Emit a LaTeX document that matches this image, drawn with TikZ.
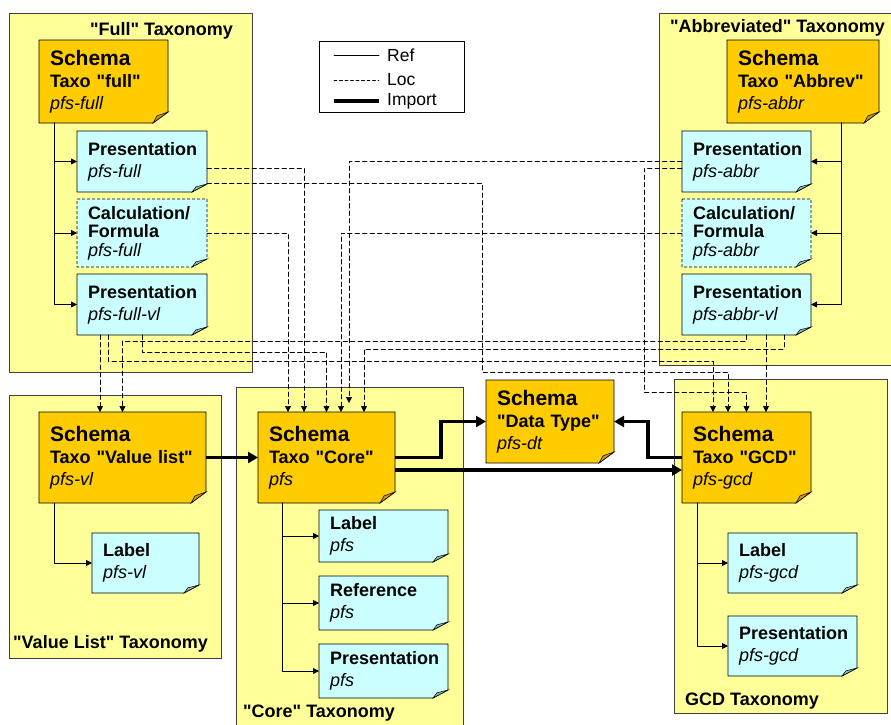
\documentclass[tikz,border=0pt]{standalone}
\usepackage{fontspec}
\setmainfont{Liberation Sans}[Ligatures=TeXOff]
\usetikzlibrary{arrows.meta}
\definecolor{taxo}{RGB}{255,255,153}
\definecolor{schemaor}{RGB}{255,204,0}
\definecolor{foldor}{RGB}{204,153,0}
\definecolor{linkcy}{RGB}{204,255,255}
\definecolor{foldcy}{RGB}{140,185,195}
\pgfdeclarelayer{back}
\pgfdeclarelayer{mid}
\pgfsetlayers{back,mid,main}
\hyphenpenalty=10000
\exhyphenpenalty=10000
\newcommand\nsname[1]{{\mdseries\itshape #1}}
\newcommand\schemaword{{\fontsize{21}{22}\selectfont Schema}}
% paper sheet with folded corner behind a node
\newcommand\paper[5][]{%
	\draw[line width=0.8pt,fill=#3,#1] (#2.north west) -- (#2.north east)
		-- ([yshift=#5]#2.south east) -- ([xshift=-15pt]#2.south east)
		-- (#2.south west) -- cycle;
	\draw[line width=0.5pt,fill=#4] ([yshift=#5]#2.south east)
		-- ([xshift=-15pt]#2.south east) -- ([xshift=-11pt,yshift=0.65*#5]#2.south east) -- cycle;
}
\begin{document}
\begin{tikzpicture}[x=1pt,y=-1pt,line cap=round,line join=round,
	>={Triangle[length=6pt,width=6pt]},
	schema/.style={anchor=north west,inner xsep=11pt,inner ysep=0pt,outer sep=0pt,align=left,
		font=\fontsize{18}{22}\selectfont\bfseries},
	linkbox/.style={schema},
	calcfont/.style={font=\fontsize{18}{18.5}\selectfont\bfseries},
	title/.style={inner sep=0pt,font=\fontsize{18}{22}\selectfont\bfseries},
	legtext/.style={anchor=west,inner sep=0pt,font=\fontsize{17.5}{20}\selectfont},
	taxobox/.style={fill=taxo,draw=black!75,line width=0.8pt},
	ref/.style={line width=0.8pt,->},
	loc/.style={line width=0.7pt,dash pattern=on 4.5pt off 3pt,->},
	imp/.style={line width=3.5pt,line cap=butt,line join=miter,-{Triangle[length=10pt,width=11pt]}}]
	\useasboundingbox (0,0) rectangle (891,724);
	% taxonomies
	\begin{pgfonlayer}{back}
		\draw[taxobox] (9,13) rectangle (252,372);
		\draw[taxobox] (659,13) rectangle (894,365);
		\draw[taxobox] (9,395) rectangle (221,658);
		\draw[taxobox] (236,387) rectangle (463,728);
		\draw[taxobox] (674,379) rectangle (887,713);
	\end{pgfonlayer}
	\node[title,anchor=base east] (tfull) at (233,35) {"Full" Taxonomy};
	\node[title,anchor=base west] (tabbr) at (670,32) {"Abbreviated" Taxonomy};
	\node[title,anchor=base west] (tvl) at (13,648) {"Value List" Taxonomy};
	\node[title,anchor=base west] (tcore) at (243,717) {"Core" Taxonomy};
	\node[title,anchor=base west] (tgcd) at (685,705) {GCD Taxonomy};
	% legend
	\draw[fill=white,line width=0.8pt] (319,41) rectangle (464,112);
	\node[legtext] (lref) at (387,55) {Ref};
	\node[legtext] (lloc) at (387,80) {Loc};
	\node[legtext] (limp) at (387,101) {Import};
	\coordinate (kref) at (334,55);
	\coordinate (kloc) at (334,80);
	\coordinate (kimp) at (334,101);
	\draw[line width=0.8pt] (kref) -- ([xshift=-8pt]lref.west);
	\draw[line width=0.7pt,dash pattern=on 3pt off 2.5pt] (kloc) -- ([xshift=-8pt]lloc.west);
	\draw[line width=3.5pt,line cap=butt] (kimp) -- ([xshift=-8pt]limp.west);
	% "Full"
	\node[schema,text width=107pt,minimum height=83pt] (full) at (39,40) {\schemaword\\Taxo "full"\\\nsname{pfs-full}};
	\node[linkbox,text width=108pt,minimum height=61pt] (prfull) at (77,131) {Presentation\\\nsname{pfs-full}};
	\node[linkbox,calcfont,text width=108pt,minimum height=68pt] (calcfull) at (77,199) {Calculation/\\Formula\\\nsname{pfs-full}};
	\node[linkbox,text width=108pt,minimum height=61pt] (vlfull) at (77,274) {Presentation\\\nsname{pfs-full-vl}};
	% "Abbreviated"
	\node[schema,text width=130pt,minimum height=83pt] (abbr) at (727,40) {\schemaword\\Taxo "Abbrev"\\\nsname{pfs-abbr}};
	\node[linkbox,text width=107pt,minimum height=61pt] (prabbr) at (682,131) {Presentation\\\nsname{pfs-abbr}};
	\node[linkbox,calcfont,text width=107pt,minimum height=68pt] (calcabbr) at (682,199) {Calculation/\\Formula\\\nsname{pfs-abbr}};
	\node[linkbox,text width=107pt,minimum height=61pt] (vlabbr) at (682,274) {Presentation\\\nsname{pfs-abbr-vl}};
	% "Value List"
	\node[schema,text width=145pt,minimum height=91pt] (vl) at (39,412) {\schemaword\\Taxo "Value list"\\\nsname{pfs-vl}};
	\node[linkbox,text width=85pt,minimum height=60pt] (lblvl) at (92,533) {Label\\\nsname{pfs-vl}};
	% "Core"
	\node[schema,text width=115pt,minimum height=91pt] (core) at (258,412) {\schemaword\\Taxo "Core"\\\nsname{pfs}};
	\node[linkbox,text width=107pt,minimum height=52pt] (lblcore) at (319,510) {Label\\\nsname{pfs}};
	\node[linkbox,text width=107pt,minimum height=54pt] (refcore) at (319,576) {Reference\\\nsname{pfs}};
	\node[linkbox,text width=107pt,minimum height=54pt] (prcore) at (319,644) {Presentation\\\nsname{pfs}};
	% data types
	\node[schema,text width=106pt,minimum height=83pt] (dt) at (486,380) {\schemaword\\"Data Type"\\\nsname{pfs-dt}};
	% GCD
	\node[schema,text width=107pt,minimum height=91pt] (gcd) at (682,412) {\schemaword\\Taxo "GCD"\\\nsname{pfs-gcd}};
	\node[linkbox,text width=107pt,minimum height=60pt] (lblgcd) at (728,533) {Label\\\nsname{pfs-gcd}};
	\node[linkbox,text width=107pt,minimum height=60pt] (prgcd) at (728,616) {Presentation\\\nsname{pfs-gcd}};
	\begin{pgfonlayer}{mid}
		\paper{full}{schemaor}{foldor}{11pt}
		\paper{abbr}{schemaor}{foldor}{11pt}
		\paper{vl}{schemaor}{foldor}{11pt}
		\paper{core}{schemaor}{foldor}{11pt}
		\paper{dt}{schemaor}{foldor}{11pt}
		\paper{gcd}{schemaor}{foldor}{11pt}
		\paper{prfull}{linkcy}{foldcy}{8pt}
		\paper[dash pattern=on 3pt off 2pt]{calcfull}{linkcy}{foldcy}{8pt}
		\paper{vlfull}{linkcy}{foldcy}{8pt}
		\paper{prabbr}{linkcy}{foldcy}{8pt}
		\paper[dash pattern=on 3pt off 2pt]{calcabbr}{linkcy}{foldcy}{8pt}
		\paper{vlabbr}{linkcy}{foldcy}{8pt}
		\paper{lblvl}{linkcy}{foldcy}{8pt}
		\paper{lblcore}{linkcy}{foldcy}{8pt}
		\paper{refcore}{linkcy}{foldcy}{8pt}
		\paper{prcore}{linkcy}{foldcy}{8pt}
		\paper{lblgcd}{linkcy}{foldcy}{8pt}
		\paper{prgcd}{linkcy}{foldcy}{8pt}
	\end{pgfonlayer}
	% refs
	\draw[ref] ([xshift=15pt]full.south west) |- (prfull.west);
	\draw[ref] ([xshift=15pt]full.south west) |- (calcfull.west);
	\draw[ref] ([xshift=15pt]full.south west) |- (vlfull.west);
	\draw[ref] ([xshift=-38pt]abbr.south east) |- (prabbr.east);
	\draw[ref] ([xshift=-38pt]abbr.south east) |- (calcabbr.east);
	\draw[ref] ([xshift=-38pt]abbr.south east) |- (vlabbr.east);
	\draw[ref] ([xshift=15pt]vl.south west) |- (lblvl.west);
	\draw[ref] ([xshift=24pt]core.south west) |- (lblcore.west);
	\draw[ref] ([xshift=24pt]core.south west) |- (refcore.west);
	\draw[ref] ([xshift=24pt]core.south west) |- (prcore.west);
	\draw[ref] ([xshift=15pt]gcd.south west) |- (lblgcd.west);
	\draw[ref] ([xshift=15pt]gcd.south west) |- (prgcd.west);
	% locs
	\draw[loc] ([yshift=-6.5pt]prfull.east) -| ([xshift=-22.5pt]core.north);
	\draw[loc] ([yshift=-21.5pt]prfull.east) -| (482,372) -| ([xshift=-18.5pt]gcd.north);
	\draw[loc] (calcfull.east) -| ([xshift=-38.5pt]core.north);
	\draw[loc] ([xshift=-42pt]vlfull.south) -- ([xshift=-22.5pt]vl.north);
	\draw[loc] ([xshift=-34pt]vlfull.south) |- (400,361) -| ([xshift=-33.5pt]gcd.north);
	\draw[loc] (vlfull.south) |- (200,352) -| (core.north);
	\draw[loc] (prabbr.west) -| ([xshift=22.5pt,yshift=9pt]core.north);
	\draw[loc] ([yshift=-6.5pt]prabbr.west) -| (644,392) -| (gcd.north);
	\draw[loc] (calcabbr.west) -| ([xshift=14.5pt]core.north);
	\draw[loc] (vlabbr.south) |- (400,341) -| (vl.north);
	\draw[loc] ([xshift=37.5pt]vlabbr.south) |- (500,349) -| ([xshift=37.5pt]core.north);
	\draw[loc] ([xshift=19.5pt]vlabbr.south) -- ([xshift=19.5pt]gcd.north);
	% imports
	\draw[imp] (vl.east) -- (core.west);
	\draw[imp] (core.east) -- ++(46,0) |- (dt.west);
	\draw[imp] ([yshift=-12.5pt]core.east) -- ([yshift=-12.5pt]gcd.west);
	\draw[imp] (gcd.west) -- ++(-34,0) |- (dt.east);
\end{tikzpicture}
\end{document}
